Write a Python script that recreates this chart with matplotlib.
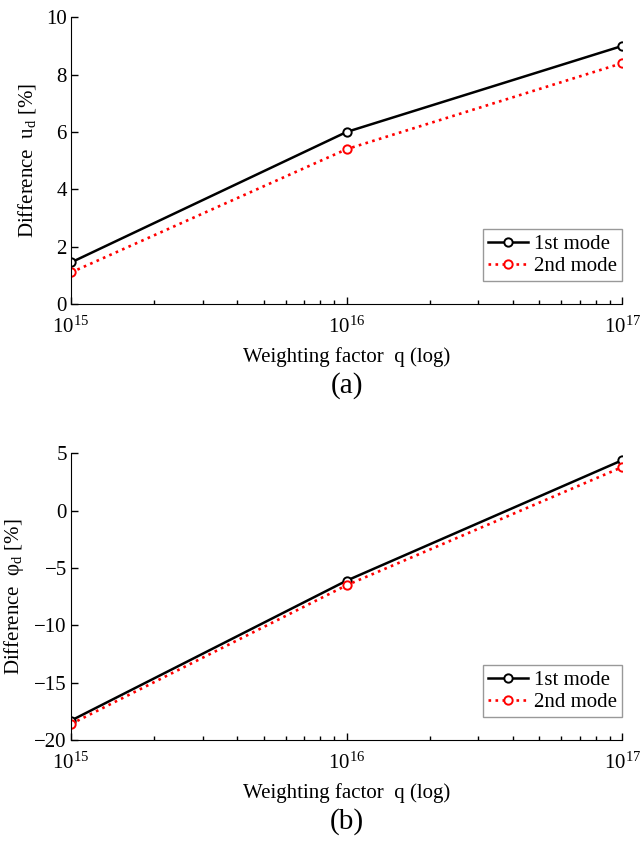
import numpy as np
import matplotlib
matplotlib.use('Agg')
import matplotlib.pyplot as plt
from matplotlib.ticker import LogLocator, LogFormatterMathtext, NullFormatter

plt.rcParams['font.family'] = ['Liberation Serif', 'DejaVu Serif']
plt.rcParams['mathtext.fontset'] = 'custom'
plt.rcParams['mathtext.rm'] = 'Liberation Serif'
plt.rcParams['mathtext.it'] = 'Liberation Serif:italic'

# données
q = [1e15, 1e16, 1e17]
u_mode1 = [1.45, 6.0, 9.0]
u_mode2 = [1.1, 5.4, 8.4]
phi_mode1 = [-18.3, -6.1, 4.4]
phi_mode2 = [-18.6, -6.5, 3.8]

labels_modes = ['1st mode', '2nd mode']
ylabels = ['Difference  $\\mathregular{u_d}$ [%]', 'Difference  $\\mathregular{φ_d}$ [%]']
sous_titres = ['(a)', '(b)']

fig = plt.figure(figsize=(6.41, 8.41), dpi=100)
ax_a = fig.add_axes([0.1108, 0.6385, 0.860, 0.341])
ax_b = fig.add_axes([0.1108, 0.120, 0.860, 0.341])

series = [(ax_a, u_mode1, u_mode2, (0, 10), [0, 2, 4, 6, 8, 10]),
          (ax_b, phi_mode1, phi_mode2, (-20, 5), [-20, -15, -10, -5, 0, 5])]

for k, (ax, y1, y2, ylim, yticks) in enumerate(series):
    ax.plot(q, y1, '-', color='black', lw=1.8, marker='o', ms=6,
            mfc='white', mec='black', mew=1.4, label=labels_modes[0])
    ax.plot(q, y2, ':', color='red', lw=1.9, marker='o', ms=6,
            mfc='white', mec='red', mew=1.4, label=labels_modes[1])
    ax.set_xscale('log')
    ax.set_xlim(1e15, 1e17)
    ax.set_ylim(*ylim)
    ax.set_yticks(yticks)
    ax.set_yticklabels([str(t).replace('-', '\u2212') for t in yticks])
    ax.xaxis.set_major_locator(LogLocator(base=10, numticks=5))
    ax.xaxis.set_major_formatter(LogFormatterMathtext())
    ax.xaxis.set_minor_locator(LogLocator(base=10, subs=np.arange(2, 10), numticks=20))
    ax.xaxis.set_minor_formatter(NullFormatter())
    ax.spines['top'].set_visible(False)
    ax.spines['right'].set_visible(False)
    ax.tick_params(which='both', direction='in', labelsize=15, width=1)
    ax.tick_params(which='major', length=5)
    ax.tick_params(which='minor', length=3)
    ax.tick_params(axis='x', which='major', pad=9)
    ax.tick_params(axis='y', which='major', pad=3)
    ax.set_xlabel('Weighting factor  q (log)', fontsize=15, labelpad=7)
    ax.set_ylabel(ylabels[k], fontsize=15, labelpad=6)
    ax.text(0.5, -0.285, sous_titres[k], transform=ax.transAxes, ha='center',
            va='center', fontsize=21)
    leg = ax.legend(loc='lower right', bbox_to_anchor=(1.0, 0.08), fontsize=15,
                    fancybox=False, framealpha=1, edgecolor='0.6',
                    handlelength=1.9, borderpad=0.25, labelspacing=0.1,
                    handletextpad=0.3, borderaxespad=0)
    leg.get_frame().set_linewidth(1.0)

fig.savefig('out.png', dpi=100)
